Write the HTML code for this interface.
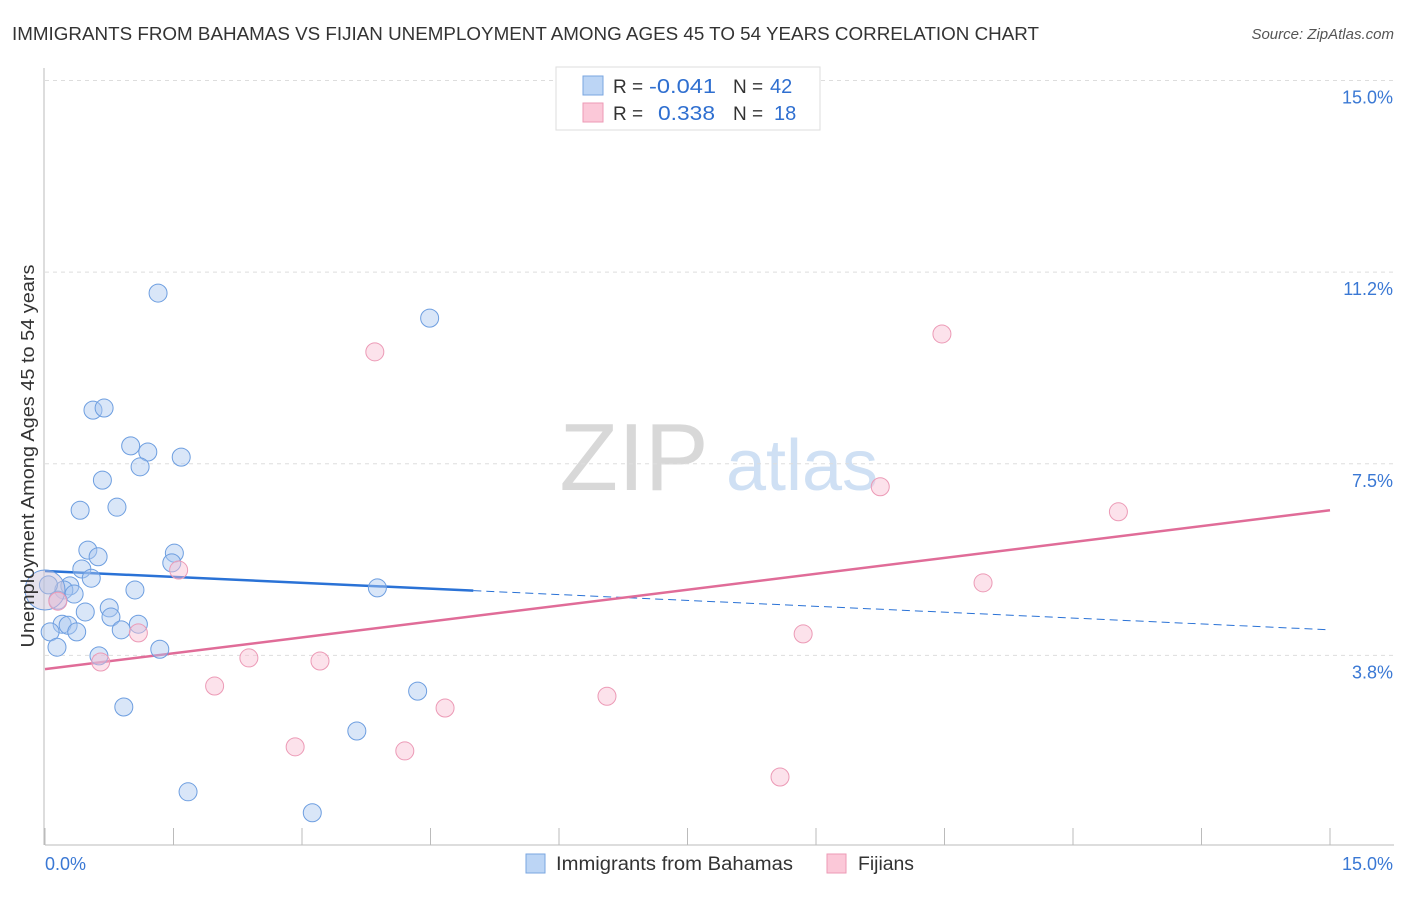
<!DOCTYPE html>
<html><head><meta charset="utf-8">
<style>
body{margin:0;background:#fff;font-family:"Liberation Sans",sans-serif;}
svg text{font-family:"Liberation Sans",sans-serif;}
</style></head>
<body>
<svg id="chart" width="1406" height="892" viewBox="0 0 1406 892" xmlns="http://www.w3.org/2000/svg">
<text x="12" y="40" font-size="18" fill="#333" textLength="1027" lengthAdjust="spacingAndGlyphs">IMMIGRANTS FROM BAHAMAS VS FIJIAN UNEMPLOYMENT AMONG AGES 45 TO 54 YEARS CORRELATION CHART</text>
<text x="1394" y="39" font-size="15" fill="#555" text-anchor="end" font-style="italic">Source: ZipAtlas.com</text>
<g>
<text x="634" y="490" font-size="96" fill="#d8d8d8" text-anchor="middle" font-family="Liberation Serif, serif">ZIP</text>
<text x="802" y="490" font-size="72" fill="#cfe0f4" text-anchor="middle">atlas</text>
</g>
<g id="grid"></g>
<g id="axes"></g>
<g id="trends"></g>
<g id="points"></g>
<text transform="translate(34,456) rotate(-90)" font-size="18" fill="#333" text-anchor="middle" textLength="383" lengthAdjust="spacingAndGlyphs">Unemployment Among Ages 45 to 54 years</text>
<g>
<rect x="556" y="67" width="264" height="63" fill="#fff" stroke="#ddd"/>
<rect x="583" y="76" width="20" height="19" fill="#bcd5f5" stroke="#7aa6e0"/>
<rect x="583" y="103" width="20" height="19" fill="#fbc8d8" stroke="#ec9ab6"/>
<text x="613" y="93" font-size="19" fill="#333">R =</text>
<text x="649" y="93" font-size="20" fill="#2f6fd0" textLength="67" lengthAdjust="spacingAndGlyphs">-0.041</text>
<text x="733" y="93" font-size="19" fill="#333">N =</text>
<text x="770" y="93" font-size="20" fill="#2f6fd0">42</text>
<text x="613" y="120" font-size="19" fill="#333">R =</text>
<text x="658" y="120" font-size="20" fill="#2f6fd0" textLength="57" lengthAdjust="spacingAndGlyphs">0.338</text>
<text x="733" y="120" font-size="19" fill="#333">N =</text>
<text x="774" y="120" font-size="20" fill="#2f6fd0">18</text>
</g>
<g>
<rect x="526" y="854" width="19" height="19" fill="#bcd5f5" stroke="#7aa6e0"/>
<text x="556" y="870" font-size="19" fill="#333" textLength="237" lengthAdjust="spacingAndGlyphs">Immigrants from Bahamas</text>
<rect x="827" y="854" width="19" height="19" fill="#fbc8d8" stroke="#ec9ab6"/>
<text x="858" y="870" font-size="19" fill="#333" textLength="56" lengthAdjust="spacingAndGlyphs">Fijians</text>
</g>
</svg>
<script>
const blueX=[1.32,4.49,0.56,0.69,1.00,1.20,1.59,1.11,0.67,0.41,0.84,0.50,0.62,1.51,1.48,0.43,0.54,3.88,0.29,0.22,0.34,0.15,0.04,0.47,0.75,0.77,1.05,1.09,0.20,0.27,0.37,0.89,0.06,0.14,1.34,0.63,4.35,0.92,3.64,1.67,3.12,0.0];
const blueY=[10.84,10.35,8.55,8.59,7.85,7.73,7.63,7.44,7.18,6.59,6.65,5.81,5.68,5.75,5.56,5.44,5.26,5.07,5.11,5.03,4.95,4.83,5.13,4.60,4.68,4.50,5.03,4.36,4.36,4.34,4.21,4.25,4.21,3.91,3.87,3.74,3.05,2.74,2.27,1.08,0.67,5.03];
const pinkX=[3.85,10.47,9.75,12.53,1.56,10.95,0.15,1.09,8.85,2.38,3.21,0.65,1.98,6.56,4.67,2.92,4.20,8.58];
const pinkY=[9.69,10.04,7.05,6.56,5.42,5.17,4.81,4.19,4.17,3.70,3.64,3.62,3.15,2.95,2.72,1.96,1.88,1.37];
const yTicks=[15.0,11.25,7.5,3.75];
const yTickLabels=["15.0%","11.2%","7.5%","3.8%"];
const xTicks=[0,1.5,3,4.5,6,7.5,9,10.5,12,13.5,15];
const blueTrend=[5.40,4.25];
const pinkTrend=[3.48,6.59];
const blueSolidEnd=5.0;

const NS="http://www.w3.org/2000/svg";
const sx=v=>45+v*(1285/15);
const sy=v=>847-v*51.1;
function mk(tag,attrs,parent){const e=document.createElementNS(NS,tag);for(const k in attrs)e.setAttribute(k,attrs[k]);parent.appendChild(e);return e;}
const grid=document.getElementById('grid'),axes=document.getElementById('axes'),trends=document.getElementById('trends'),pts=document.getElementById('points');
yTicks.forEach((t,i)=>{
  const l=mk('line',{x1:45,x2:1394,y1:sy(t),y2:sy(t),stroke:'#ddd','stroke-dasharray':'4,4'},grid);
  
  
  const tx=mk('text',{x:1393,y:sy(t)+23,'font-size':18,fill:'#3a78d4','text-anchor':'end'},axes);
  tx.textContent=yTickLabels[i];
  
  
});
const xa=mk('line',{x1:45,x2:1394,y1:845,y2:845,stroke:'#bbb'},axes);


const ya=mk('line',{x1:44,x2:44,y1:68,y2:845,stroke:'#bbb'},axes);


xTicks.forEach(t=>{
  const l=mk('line',{x1:sx(t),x2:sx(t),y1:828,y2:845,stroke:'#bbb'},axes);
  
  
});
const xl0=mk('text',{x:45,y:870,'font-size':18,fill:'#3a78d4'},axes);xl0.textContent='0.0%';


const xl1=mk('text',{x:1393,y:870,'font-size':18,fill:'#3a78d4','text-anchor':'end'},axes);xl1.textContent='15.0%';



const bAt=x=>blueTrend[0]+(blueTrend[1]-blueTrend[0])*x/15;
const pAt=x=>pinkTrend[0]+(pinkTrend[1]-pinkTrend[0])*x/15;
const bl=mk('line',{x1:sx(0),y1:sy(bAt(0)),x2:sx(blueSolidEnd),y2:sy(bAt(blueSolidEnd)),stroke:'#2a72d6','stroke-width':2.5},trends);


const bd=mk('line',{x1:sx(blueSolidEnd),y1:sy(bAt(blueSolidEnd)),x2:sx(15),y2:sy(bAt(15)),stroke:'#2a72d6','stroke-width':1,'stroke-dasharray':'8,5'},trends);


const pl=mk('line',{x1:sx(0),y1:sy(pAt(0)),x2:sx(15),y2:sy(pAt(15)),stroke:'#e06c98','stroke-width':2.5},trends);



blueX.forEach((x,i)=>{
  const big=i===blueX.length-1;
  const c=mk('circle',{cx:sx(x),cy:sy(blueY[i]),r:big?20:9,fill:big?'rgba(200,190,215,0.45)':'rgba(170,200,240,0.45)',stroke:'#6d9ee0','stroke-width':1},pts);
  
  
});
pinkX.forEach((x,i)=>{
  const c=mk('circle',{cx:sx(x),cy:sy(pinkY[i]),r:9,fill:'rgba(248,190,210,0.45)',stroke:'#ec9ab6','stroke-width':1},pts);
  
  
});
</script>
</body></html>
